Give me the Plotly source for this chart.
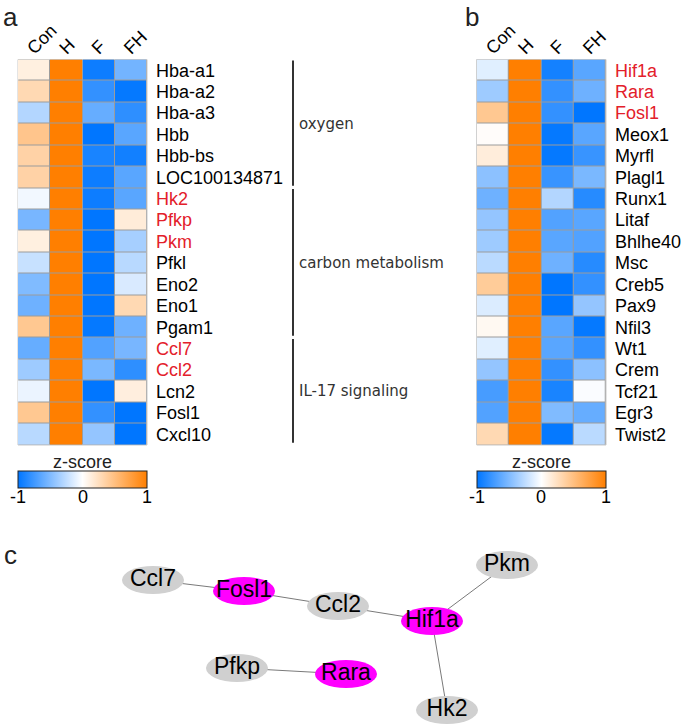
import plotly.graph_objects as go

# ---------------- data ----------------
conditions = ["Con", "H", "F", "FH"]

genes_a = ["Hba-a1", "Hba-a2", "Hba-a3", "Hbb", "Hbb-bs", "LOC100134871",
           "Hk2", "Pfkp", "Pkm", "Pfkl", "Eno2", "Eno1", "Pgam1",
           "Ccl7", "Ccl2", "Lcn2", "Fosl1", "Cxcl10"]
red_a = ["Hk2", "Pfkp", "Pkm", "Ccl7", "Ccl2"]
con_a = [0.12, 0.30, -0.30, 0.45, 0.35, 0.35, -0.05, -0.53, 0.12, -0.22, -0.50, -0.57, 0.43,
         -0.60, -0.38, -0.08, 0.43, -0.28]
h_a = [1.0] * 18
f_a = [-0.95, -0.80, -0.60, -1.0, -0.90, -0.95, -0.95, -1.0, -1.0, -1.0, -1.0, -1.0, -0.98,
       -0.68, -0.52, -1.0, -0.80, -0.42]
fh_a = [-0.55, -0.98, -0.82, -0.65, -0.93, -0.65, -0.65, 0.15, -0.35, -0.28, -0.15, 0.30, -0.57,
        -0.53, -0.82, 0.13, -1.0, -1.0]

groups = ["oxygen", "carbon metabolism", "IL-17 signaling"]
group_start = [0, 6, 13]
group_end = [5, 12, 17]

genes_b = ["Hif1a", "Rara", "Fosl1", "Meox1", "Myrfl", "Plagl1", "Runx1", "Litaf", "Bhlhe40",
           "Msc", "Creb5", "Pax9", "Nfil3", "Wt1", "Crem", "Tcf21", "Egr3", "Twist2"]
red_b = ["Hif1a", "Rara", "Fosl1"]
con_b = [-0.12, -0.38, 0.43, 0.02, 0.14, -0.45, -0.57, -0.42, -0.38, -0.27, 0.40, -0.14, 0.05,
         -0.12, -0.42, -0.72, -0.68, 0.30]
h_b = [1.0] * 18
f_b = [-0.92, -0.80, -0.80, -0.98, -0.98, -0.78, -0.30, -0.68, -0.65, -0.57, -1.0, -1.0, -0.65,
       -0.65, -0.80, -0.90, -0.50, -0.98]
fh_b = [-0.65, -0.57, -1.0, -0.65, -0.78, -0.52, -0.85, -0.65, -0.68, -0.85, -0.80, -0.42, -0.98,
        -0.80, -0.45, -0.02, -0.60, -0.27]

colorbar_ticks = [-1, 0, 1]

# network (layout coordinates of the drawing)
node_names = ["Ccl7", "Fosl1", "Ccl2", "Hif1a", "Pkm", "Pfkp", "Rara", "Hk2"]
node_x = [153, 244, 338, 432, 507, 237, 346, 447]
node_y = [580, 591, 606, 621, 565, 668, 674, 710]
node_tf = [False, True, False, True, False, False, True, False]
edges = [("Ccl7", "Fosl1"), ("Fosl1", "Ccl2"), ("Ccl2", "Hif1a"),
         ("Hif1a", "Pkm"), ("Hif1a", "Hk2"), ("Pfkp", "Rara")]

# ---------------- styling ----------------
W, H = 685, 727
FONT = "Liberation Sans, Arial, sans-serif"
RED = "#e3202a"
colorscale = [[0.0, "rgb(0,118,255)"], [0.5, "rgb(255,255,255)"], [1.0, "rgb(255,127,0)"]]

def px_x(v):
    return v / W

def px_y(v):
    return 1 - v / H

def labels(genes, reds):
    return [f"<span style='color:{RED}'>{g}</span>" if g in reds else g for g in genes]

fig = go.Figure()
annotations = []
shapes = []

CB_LEN = 129

def add_heat(z_cols, genes, reds, xa, ya, x0):
    z = [list(r) for r in zip(*z_cols)]
    cx = x0 + CB_LEN / 2
    fig.add_trace(go.Heatmap(
        z=z, x=list(range(len(conditions))), y=list(range(len(genes))),
        xaxis=xa, yaxis=ya, zmin=-1, zmax=1, colorscale=colorscale,
        xgap=1, ygap=1, hoverinfo="skip",
        colorbar=dict(orientation="h", x=px_x(cx), xanchor="center", y=px_y(479.5), yanchor="middle",
                      len=CB_LEN, lenmode="pixels", thickness=17, thicknessmode="pixels",
                      outlinewidth=1, outlinecolor="#222", xpad=0, ypad=0,
                      tickvals=colorbar_ticks, showticklabels=False, ticks="")
    ))
    annotations.append(dict(xref="paper", yref="paper", x=px_x(cx), y=px_y(462), text="z-score",
                            showarrow=False, xanchor="center", yanchor="middle",
                            font=dict(size=18, family=FONT, color="#222")))
    for v in colorbar_ticks:
        annotations.append(dict(xref="paper", yref="paper", x=px_x(x0 + (v + 1) / 2 * CB_LEN),
                                y=px_y(497), text=str(v), showarrow=False, xanchor="center",
                                yanchor="middle", font=dict(size=18, family=FONT, color="black")))

add_heat([con_a, h_a, f_a, fh_a], genes_a, red_a, "x", "y", 18)
add_heat([con_b, h_b, f_b, fh_b], genes_b, red_b, "x2", "y2", 476.7)

# network text
fig.add_trace(go.Scatter(x=node_x, y=node_y, text=node_names, mode="text",
                         textfont=dict(size=23, family=FONT, color="black"),
                         xaxis="x3", yaxis="y3", hoverinfo="skip", showlegend=False))

def xaxis_cfg(x0, x1, ya):
    return dict(domain=[px_x(x0), px_x(x1)], range=[-0.5, 3.5], side="top", anchor=ya,
                tickvals=list(range(4)), ticktext=conditions, tickangle=-45, ticklabelshift=-6,
                ticklabelstandoff=-3,
                ticks="", showgrid=False, zeroline=False, showline=False,
                tickfont=dict(size=18, family=FONT, color="black"), automargin=False, fixedrange=True)

def yaxis_cfg(genes, reds, xa):
    return dict(domain=[px_y(445), px_y(59.5)], range=[len(genes) - 0.5, -0.5], side="right",
                anchor=xa, tickvals=list(range(len(genes))), ticktext=labels(genes, reds),
                ticks="", ticklabelstandoff=8, showgrid=False, zeroline=False, showline=False,
                tickfont=dict(size=18, family=FONT, color="black"), automargin=False, fixedrange=True)

for xa, ya in (("x", "y"), ("x2", "y2")):
    shapes.append(dict(type="rect", xref=f"{xa} domain", yref=f"{ya} domain", x0=0, x1=1, y0=0, y1=1,
                       fillcolor="#9c9c9c", line=dict(color="#c8c8c8", width=1), layer="below"))

# brackets for pathway groups
for name, s, e in zip(groups, group_start, group_end):
    shapes.append(dict(type="line", xref="paper", yref="y", x0=px_x(293), x1=px_x(293),
                       y0=s - 0.45, y1=e + 0.4, line=dict(color="#333", width=2)))
    annotations.append(dict(xref="paper", yref="y", x=px_x(297), y=(s + e) / 2, text=name,
                            showarrow=False, xanchor="left", yanchor="middle",
                            font=dict(size=15, family="DejaVu Sans", color="#333")))

# network edges and nodes
idx = {n: i for i, n in enumerate(node_names)}
for a, b in edges:
    i, j = idx[a], idx[b]
    shapes.append(dict(type="line", xref="x3", yref="y3", x0=node_x[i], y0=node_y[i],
                       x1=node_x[j], y1=node_y[j], line=dict(color="#7a7a7a", width=1), layer="below"))
for n, x, y, tf in zip(node_names, node_x, node_y, node_tf):
    shapes.append(dict(type="circle", xref="x3", yref="y3", x0=x - 31, x1=x + 31, y0=y - 14, y1=y + 14,
                       fillcolor="#ff00ff" if tf else "#d0d0d0", line=dict(width=0), layer="below"))

for t, x, y in (("a", 1, 0), ("b", 463, 0), ("c", 2, 538)):
    annotations.append(dict(xref="paper", yref="paper", x=px_x(x), y=px_y(y), text=t, showarrow=False,
                            xanchor="left", yanchor="top", font=dict(size=26, family=FONT, color="#222")))

fig.update_layout(
    width=W, height=H, margin=dict(l=0, r=0, t=0, b=0),
    paper_bgcolor="white", plot_bgcolor="white", showlegend=False,
    xaxis=xaxis_cfg(18, 147, "y"), yaxis=yaxis_cfg(genes_a, red_a, "x"),
    xaxis2=xaxis_cfg(476.7, 606, "y2"), yaxis2=yaxis_cfg(genes_b, red_b, "x2"),
    xaxis3=dict(domain=[0, 1], range=[0, W], visible=False, anchor="y3", fixedrange=True),
    yaxis3=dict(domain=[0, px_y(540)], range=[H, 540], visible=False, anchor="x3", fixedrange=True),
    shapes=shapes, annotations=annotations,
)

fig.write_html("out.html", config={"displayModeBar": False},
               post_script="document.body.style.margin='0';")
